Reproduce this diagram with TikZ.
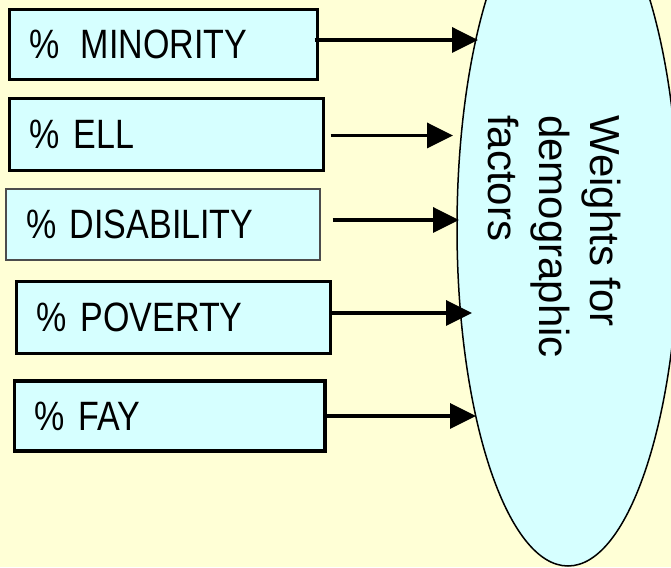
\documentclass[tikz,border=0pt]{standalone}
\usepackage{fontspec}
\setmainfont{Liberation Sans}
\newfontfamily\boxfont[FakeStretch=0.83]{Liberation Sans}
\usetikzlibrary{arrows.meta,shapes.geometric}
\definecolor{bgyellow}{RGB}{255,255,214}
\definecolor{boxcyan}{RGB}{214,255,255}
\tikzset{
  inbox/.style={draw=black, line width=3.3pt, fill=boxcyan, rectangle, inner xsep=20pt, inner ysep=0pt,
    align=left, font=\boxfont\fontsize{41}{49}\selectfont, anchor=center},
  thinbox/.style={inbox, draw=black!70, line width=1.3pt},
  arr/.style={line width=3.6pt, -{Triangle[length=26pt,width=25pt]}},
}
\begin{document}
\begin{tikzpicture}[x=1pt,y=1pt]
\useasboundingbox (0,0) rectangle (671,567);
\fill[bgyellow] (0,0) rectangle (671,567);
% ellipse
\node[ellipse, draw=black, line width=1.5pt, fill=boxcyan, minimum width=222pt, minimum height=676pt, inner sep=0pt] (ell) at (568,339) {};
\node[rotate=-90, anchor=north west, inner sep=0pt, align=left, font=\fontsize{42}{51}\selectfont] (lab) at (621,452) {Weights for\\demographic\\factors};
% boxes
\node[inbox, minimum width=308pt, minimum height=70pt, text width=268pt] (b1) at (163.5,522.5) {\%\hspace{21pt}MINORITY};
\node[inbox, minimum width=314pt, minimum height=72pt, text width=274pt] (b2) at (166.5,432.4) {\% ELL};
\node[thinbox, minimum width=314pt, minimum height=71pt, text width=274pt] (b3) at (163,342.4) {\% DISABILITY};
\node[inbox, minimum width=314pt, minimum height=71.6pt, text width=274pt] (b4) at (173.6,249.5) {\% POVERTY};
\node[inbox, minimum width=310.7pt, minimum height=70pt, text width=270pt] (b5) at (169.6,151) {\% FAY};
% arrow tips
\coordinate (t1) at (478,527);
\coordinate (t2) at (453,431.5);
\coordinate (t3) at (459,347);
\coordinate (t4) at (472,254);
\coordinate (t5) at (476,151);
\draw[arr, shorten <=-4.5pt] (b1.east |- t1) -- (t1);
\draw[arr, shorten <=5.5pt] (b2.east |- t2) -- (t2);
\draw[arr, shorten <=12pt] (b3.east |- t3) -- (t3);
\draw[arr, shorten <=-1.5pt] (b4.east |- t4) -- (t4);
\draw[arr, shorten <=-2pt] (b5.east |- t5) -- (t5);
\end{tikzpicture}
\end{document}
